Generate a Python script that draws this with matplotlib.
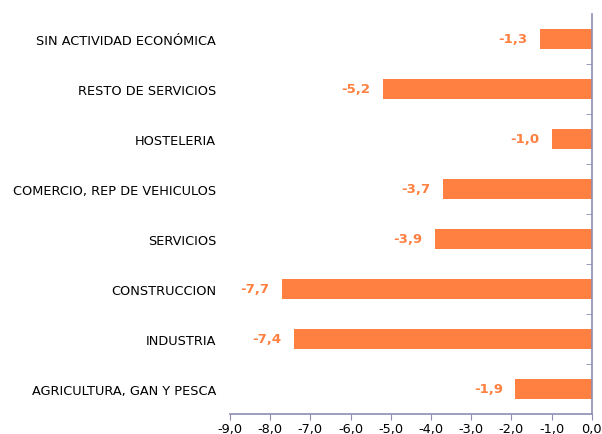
import matplotlib.pyplot as plt
import numpy as np

categories = ['AGRICULTURA, GAN Y PESCA', 'INDUSTRIA', 'CONSTRUCCION', 'SERVICIOS',
              'COMERCIO, REP DE VEHICULOS', 'HOSTELERIA', 'RESTO DE SERVICIOS',
              'SIN ACTIVIDAD ECONÓMICA']
values = [-1.9, -7.4, -7.7, -3.9, -3.7, -1.0, -5.2, -1.3]
xticks = [-9, -8, -7, -6, -5, -4, -3, -2, -1, 0]

bar_col = '#FF8040'
axis_col = '#8C8CB4'

fig = plt.figure(figsize=(6.02, 4.35), dpi=100, facecolor='w')
ax = fig.add_axes([0.382, 0.046, 0.601, 0.920])

y = np.arange(len(categories))
ax.barh(y, values, height=0.4, color=bar_col)

for yi, v in zip(y, values):
    ax.annotate(f'{v:.1f}'.replace('.', ','), xy=(v, yi), xytext=(-9, 0),
                textcoords='offset points', ha='right', va='center',
                color=bar_col, fontsize=9.5, fontweight='bold')

ax.set_xlim(-9, 0)
ax.set_ylim(-0.5, len(categories) - 0.5)
ax.set_xticks(xticks)
ax.set_xticklabels([f'{t:.1f}'.replace('.', ',') for t in xticks], fontsize=9.3)

# category labels on the left, boundary ticks on the right spine
ax.set_yticks(y)
ax.set_yticklabels(categories, fontsize=9.3)
ax.tick_params(axis='y', length=0, pad=10)
ax.set_yticks(np.arange(0.5, len(categories) - 0.5), minor=True)
ax.tick_params(axis='y', which='minor', right=True, left=False, direction='in',
               length=4, color=axis_col)
ax.tick_params(axis='x', direction='out', length=4, color=axis_col, pad=2)

for s in ['top', 'left']:
    ax.spines[s].set_visible(False)
for s in ['bottom', 'right']:
    ax.spines[s].set_color(axis_col)
    ax.spines[s].set_linewidth(1.2)

fig.savefig('out.png', dpi=100)
